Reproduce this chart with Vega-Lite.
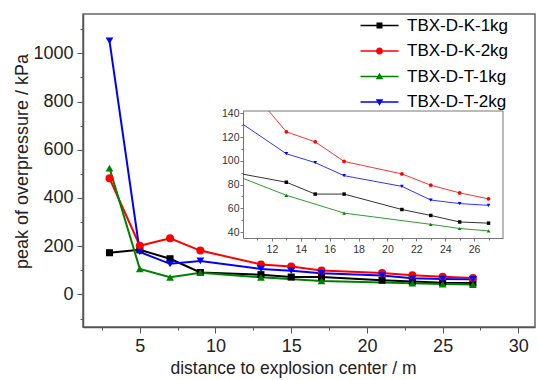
{
  "$schema": "https://vega.github.io/schema/vega-lite/v6.json",
  "autosize": "none",
  "padding": {"left": 83, "top": 14, "right": 2, "bottom": 53},
  "width": 452,
  "height": 313,
  "background": "white",
  "view": {"stroke": "#666", "strokeWidth": 1.5},
  "config": {
    "font": "Liberation Sans",
    "axis": {"grid": false, "domainColor": "#555", "tickColor": "#555", "labelColor": "#222", "titleColor": "#222", "titleFontWeight": "normal", "labelFont": "Liberation Sans", "titleFont": "Liberation Sans", "labelOverlap": false, "labelFlush": false},
    "legend": {"orient": "none", "legendX": 288, "legendY": 3, "padding": 0, "labelFontSize": 17, "labelColor": "#000", "labelOffset": 19, "symbolSize": 100, "symbolStrokeWidth": 0, "rowPadding": 7.5, "title": null}
  },
  "datasets": {
    "pressure": [
      {"series": "TBX-D-K-1kg", "distance": 3, "pressure": 173},
      {"series": "TBX-D-K-1kg", "distance": 5, "pressure": 185},
      {"series": "TBX-D-K-1kg", "distance": 7, "pressure": 148},
      {"series": "TBX-D-K-1kg", "distance": 9, "pressure": 91},
      {"series": "TBX-D-K-1kg", "distance": 13, "pressure": 82},
      {"series": "TBX-D-K-1kg", "distance": 15, "pressure": 72},
      {"series": "TBX-D-K-1kg", "distance": 17, "pressure": 72},
      {"series": "TBX-D-K-1kg", "distance": 21, "pressure": 59},
      {"series": "TBX-D-K-1kg", "distance": 23, "pressure": 54},
      {"series": "TBX-D-K-1kg", "distance": 25, "pressure": 48.5},
      {"series": "TBX-D-K-1kg", "distance": 27, "pressure": 47.5},
      {"series": "TBX-D-K-2kg", "distance": 3, "pressure": 482},
      {"series": "TBX-D-K-2kg", "distance": 5, "pressure": 202},
      {"series": "TBX-D-K-2kg", "distance": 7, "pressure": 233},
      {"series": "TBX-D-K-2kg", "distance": 9, "pressure": 182},
      {"series": "TBX-D-K-2kg", "distance": 13, "pressure": 124.5},
      {"series": "TBX-D-K-2kg", "distance": 15, "pressure": 116},
      {"series": "TBX-D-K-2kg", "distance": 17, "pressure": 99.5},
      {"series": "TBX-D-K-2kg", "distance": 21, "pressure": 89},
      {"series": "TBX-D-K-2kg", "distance": 23, "pressure": 79.5},
      {"series": "TBX-D-K-2kg", "distance": 25, "pressure": 73},
      {"series": "TBX-D-K-2kg", "distance": 27, "pressure": 68},
      {"series": "TBX-D-T-1kg", "distance": 3, "pressure": 524},
      {"series": "TBX-D-T-1kg", "distance": 5, "pressure": 106},
      {"series": "TBX-D-T-1kg", "distance": 7, "pressure": 71},
      {"series": "TBX-D-T-1kg", "distance": 9, "pressure": 90},
      {"series": "TBX-D-T-1kg", "distance": 13, "pressure": 71},
      {"series": "TBX-D-T-1kg", "distance": 17, "pressure": 56},
      {"series": "TBX-D-T-1kg", "distance": 23, "pressure": 46.5},
      {"series": "TBX-D-T-1kg", "distance": 25, "pressure": 43},
      {"series": "TBX-D-T-1kg", "distance": 27, "pressure": 41},
      {"series": "TBX-D-T-2kg", "distance": 3, "pressure": 1052},
      {"series": "TBX-D-T-2kg", "distance": 5, "pressure": 176},
      {"series": "TBX-D-T-2kg", "distance": 7, "pressure": 127},
      {"series": "TBX-D-T-2kg", "distance": 9, "pressure": 139},
      {"series": "TBX-D-T-2kg", "distance": 13, "pressure": 106},
      {"series": "TBX-D-T-2kg", "distance": 15, "pressure": 98.5},
      {"series": "TBX-D-T-2kg", "distance": 17, "pressure": 87.5},
      {"series": "TBX-D-T-2kg", "distance": 21, "pressure": 78.5},
      {"series": "TBX-D-T-2kg", "distance": 23, "pressure": 67},
      {"series": "TBX-D-T-2kg", "distance": 25, "pressure": 64},
      {"series": "TBX-D-T-2kg", "distance": 27, "pressure": 62.5}
    ]
  },
  "data": {"name": "pressure"},
  "resolve": {"scale": {"x": "independent", "y": "independent"}, "axis": {"x": "independent", "y": "independent"}},
  "layer": [
    {
      "encoding": {
        "x": {"field": "distance", "type": "quantitative",
          "scale": {"domain": [1.25, 31.1], "nice": false, "zero": false},
          "axis": {"orient": "bottom", "title": "distance to explosion center / m", "values": [2.5, 5, 7.5, 10, 12.5, 15, 17.5, 20, 22.5, 25, 27.5, 30], "format": "d",
            "labelExpr": "datum.value % 5 === 0 ? datum.label : ''",
            "tickSize": {"condition": {"test": "datum.value % 5 === 0", "value": 6}, "value": 3},
            "labelFontSize": 18, "titleFontSize": 17.5, "labelPadding": 4, "titlePadding": 4, "titleX": 210, "domainWidth": 1.5}},
        "y": {"field": "pressure", "type": "quantitative",
          "scale": {"domain": [-135, 1163], "nice": false, "zero": false},
          "axis": {"orient": "left", "title": "peak of overpressure / kPa", "values": [-100, 0, 100, 200, 300, 400, 500, 600, 700, 800, 900, 1000, 1100], "format": "d",
            "labelExpr": "datum.value % 200 === 0 ? datum.label : ''",
            "tickSize": {"condition": {"test": "datum.value % 200 === 0", "value": 6}, "value": 3},
            "labelFontSize": 18, "titleFontSize": 18, "labelPadding": 4, "titlePadding": 1, "titleY": 147, "domainWidth": 1.5}},
        "color": {"field": "series", "type": "nominal",
          "scale": {"domain": ["TBX-D-K-1kg", "TBX-D-K-2kg", "TBX-D-T-1kg", "TBX-D-T-2kg"], "range": ["#000000", "#ff0000", "#008000", "#0000ff"]}}
      },
      "layer": [
        {"mark": {"type": "line", "strokeWidth": 2}},
        {"transform": [{"filter": "datum.series === 'TBX-D-K-1kg'"}], "mark": {"type": "point", "shape": "square", "filled": true, "opacity": 1, "size": 50}},
        {"transform": [{"filter": "datum.series === 'TBX-D-K-2kg'"}], "mark": {"type": "point", "shape": "circle", "filled": true, "opacity": 1, "size": 64}},
        {"transform": [{"filter": "datum.series === 'TBX-D-T-1kg'"}], "mark": {"type": "point", "shape": "triangle-up", "filled": true, "opacity": 1, "size": 60}},
        {"transform": [{"filter": "datum.series === 'TBX-D-T-2kg'"}], "mark": {"type": "point", "shape": "triangle-down", "filled": true, "opacity": 1, "size": 60}},
        {"transform": [{"filter": "false"}], "mark": {"type": "point", "filled": true, "opacity": 1},
          "encoding": {"shape": {"field": "series", "type": "nominal",
            "scale": {"domain": ["TBX-D-K-1kg", "TBX-D-K-2kg", "TBX-D-T-1kg", "TBX-D-T-2kg"],
              "range": [
                "M-3.8,-0.15H3.8V0.15H-3.8Z M-0.6,-0.6H0.6V0.6H-0.6Z",
                "M-3.8,-0.15H3.8V0.15H-3.8Z M-0.7,0A0.7,0.7,0,1,1,0.7,0A0.7,0.7,0,1,1,-0.7,0Z",
                "M-3.8,-0.15H3.8V0.15H-3.8Z M0,-0.75L0.75,0.55H-0.75Z",
                "M-3.8,-0.15H3.8V0.15H-3.8Z M0,0.75L-0.75,-0.55H0.75Z"
              ]}}}}
      ]
    },
    {
      "encoding": {
        "x": {"field": "distance", "type": "quantitative",
          "scale": {"domain": [10, 28], "nice": false, "zero": false, "range": [160, 420]},
          "axis": {"orient": "bottom", "offset": -89, "title": null, "domain": true, "domainColor": "#777", "domainWidth": 1, "values": [11, 12, 13, 14, 15, 16, 17, 18, 19, 20, 21, 22, 23, 24, 25, 26, 27], "format": "d",
            "labelExpr": "datum.value % 2 === 0 ? datum.label : ''",
            "tickSize": {"condition": {"test": "datum.value % 2 === 0", "value": 3}, "value": 2},
            "labelFontSize": 10.5, "labelPadding": 3, "labelColor": "#333", "tickColor": "#777"}},
        "y": {"field": "pressure", "type": "quantitative",
          "scale": {"domain": [35, 142], "nice": false, "zero": false, "range": [224, 97]},
          "axis": {"orient": "left", "offset": -160, "title": null, "domain": true, "domainColor": "#777", "domainWidth": 1, "values": [40, 50, 60, 70, 80, 90, 100, 110, 120, 130, 140], "format": "d",
            "labelExpr": "datum.value % 20 === 0 ? datum.label : ''",
            "tickSize": {"condition": {"test": "datum.value % 20 === 0", "value": 3}, "value": 2},
            "labelFontSize": 10.5, "labelPadding": 1, "labelColor": "#333", "tickColor": "#777"}}
      },
      "layer": [
        {"transform": [{"filter": "datum.series === 'TBX-D-K-1kg' && datum.distance === 27"}], "mark": {"type": "rule", "color": "#777", "strokeWidth": 1},
          "encoding": {"x": {"datum": 28, "type": "quantitative"}, "y": {"datum": 35, "type": "quantitative"}, "y2": {"datum": 142}}},
        {"transform": [{"filter": "datum.series === 'TBX-D-K-1kg' && datum.distance === 27"}], "mark": {"type": "rule", "color": "#777", "strokeWidth": 1},
          "encoding": {"x": {"datum": 10, "type": "quantitative"}, "x2": {"datum": 28}, "y": {"datum": 142, "type": "quantitative"}}},
        {"transform": [{"filter": "datum.distance >= 9"}], "mark": {"type": "line", "strokeWidth": 1, "opacity": 0.8, "clip": {"expr": "pathShape('M160,97H420V224H160Z')"}},
          "encoding": {"color": {"field": "series", "type": "nominal"}}},
        {"transform": [{"filter": "datum.series === 'TBX-D-K-1kg' && datum.distance >= 13"}], "mark": {"type": "point", "shape": "square", "filled": true, "opacity": 1, "size": 12}, "encoding": {"color": {"field": "series", "type": "nominal"}}},
        {"transform": [{"filter": "datum.series === 'TBX-D-K-2kg' && datum.distance >= 13"}], "mark": {"type": "point", "shape": "circle", "filled": true, "opacity": 1, "size": 14}, "encoding": {"color": {"field": "series", "type": "nominal"}}},
        {"transform": [{"filter": "datum.series === 'TBX-D-T-1kg' && datum.distance >= 13"}], "mark": {"type": "point", "shape": "triangle-up", "filled": true, "opacity": 1, "size": 14}, "encoding": {"color": {"field": "series", "type": "nominal"}}},
        {"transform": [{"filter": "datum.series === 'TBX-D-T-2kg' && datum.distance >= 13"}], "mark": {"type": "point", "shape": "triangle-down", "filled": true, "opacity": 1, "size": 14}, "encoding": {"color": {"field": "series", "type": "nominal"}}}
      ]
    }
  ]
}
